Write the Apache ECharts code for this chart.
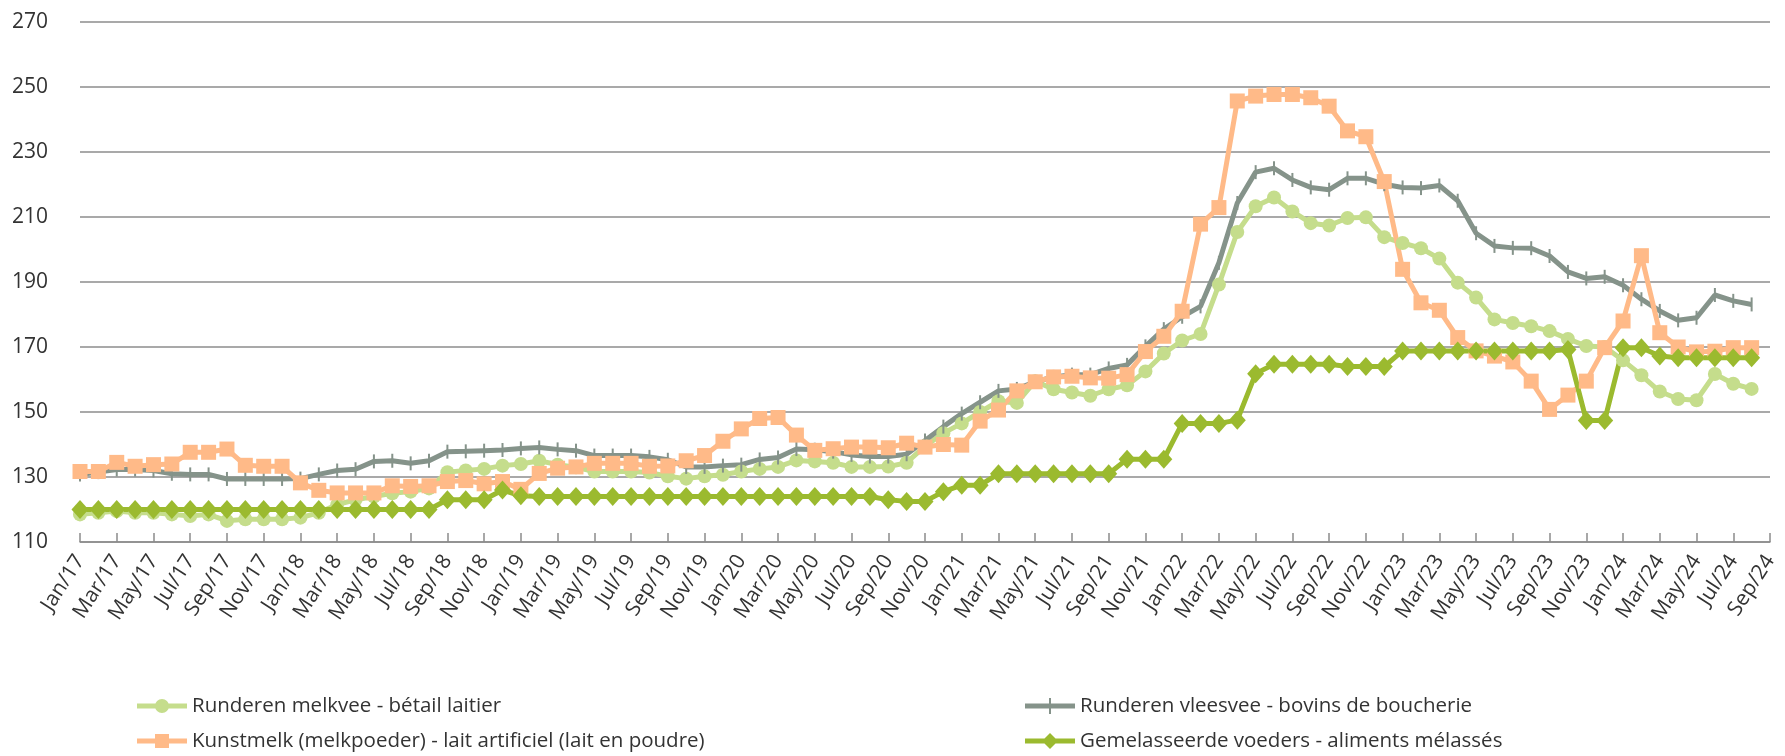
<!DOCTYPE html>
<html>
<head>
<meta charset="utf-8">
<script src="https://cdn.jsdelivr.net/npm/echarts@6/dist/echarts.min.js"></script>
<style>
  html, body { margin: 0; padding: 0; background: #fff; }
  #chart { width: 1785px; height: 756px; }
</style>
</head>
<body>
<div id="chart"></div>
<script>
// month labels Jan/17 .. Sep/24
var months = [
    'Jan/17','Feb/17','Mar/17','Apr/17','May/17','Jun/17','Jul/17','Aug/17','Sep/17','Oct/17','Nov/17','Dec/17',
    'Jan/18','Feb/18','Mar/18','Apr/18','May/18','Jun/18','Jul/18','Aug/18','Sep/18','Oct/18','Nov/18','Dec/18',
    'Jan/19','Feb/19','Mar/19','Apr/19','May/19','Jun/19','Jul/19','Aug/19','Sep/19','Oct/19','Nov/19','Dec/19',
    'Jan/20','Feb/20','Mar/20','Apr/20','May/20','Jun/20','Jul/20','Aug/20','Sep/20','Oct/20','Nov/20','Dec/20',
    'Jan/21','Feb/21','Mar/21','Apr/21','May/21','Jun/21','Jul/21','Aug/21','Sep/21','Oct/21','Nov/21','Dec/21',
    'Jan/22','Feb/22','Mar/22','Apr/22','May/22','Jun/22','Jul/22','Aug/22','Sep/22','Oct/22','Nov/22','Dec/22',
    'Jan/23','Feb/23','Mar/23','Apr/23','May/23','Jun/23','Jul/23','Aug/23','Sep/23','Oct/23','Nov/23','Dec/23',
    'Jan/24','Feb/24','Mar/24','Apr/24','May/24','Jun/24','Jul/24','Aug/24','Sep/24'
];

var melkvee = [
    118.5, 119, 119.5, 119, 119, 118.5, 118, 118.5, 116.5, 117, 117, 117,
    117.5, 119, 121.5, 123, 124, 125, 125.5, 126.5, 131.5, 132, 132.5, 133.5,
    134, 135, 133.8, 133, 131.7, 131.7, 131.7, 131.4, 130.2, 129.5, 130.2, 130.7,
    131.7, 132.5, 133.1, 135.1, 134.8, 134.4, 133.1, 133.1, 133.2, 134.4, 139.5, 143.5,
    146.5, 150, 153.3, 152.8, 159.5, 157, 156, 155, 157, 158.2, 162.5, 168,
    172, 174, 189.2, 205.4, 213.3, 216, 211.7, 208.1, 207.4, 209.7, 209.9, 203.8,
    202, 200.4, 197.2, 189.8, 185.2, 178.5, 177.4, 176.4, 174.9, 172.5, 170.3, 170,
    165.9, 161.3, 156.3, 154, 153.6, 161.7, 158.7, 157.1, null
];

var vleesvee = [
    130.8, 131.5, 132.3, 132.3, 132, 131, 130.8, 130.8, 129.4, 129.4, 129.4, 129.4,
    129.5, 130.8, 132, 132.4, 134.8, 135, 134.2, 135, 137.8, 137.9, 138.1, 138.3,
    138.8, 139.1, 138.5, 138.1, 136.6, 136.6, 136.6, 136.2, 135.3, 133.1, 133.1, 133.5,
    133.8, 135.4, 136, 138.6, 138.4, 137.8, 136.8, 136.3, 136.3, 137, 141.2, 145.5,
    149.5, 153, 156.5, 157.1, 159.3, 160.8, 161.5, 161.5, 163.4, 164.5, 170.2, 175.5,
    179.3, 182.5, 195.9, 214.3, 223.8, 225, 221.4, 219.1, 218.4, 221.9, 221.9, 220.1,
    219.1, 218.9, 219.7, 215, 205, 201.1, 200.5, 200.4, 198, 193.1, 191.1, 191.6,
    189, 184.7, 181.1, 178.2, 179, 186, 184.2, 183.1, null
];

var kunstmelk = [
    131.7, 131.7, 134.5, 133.3, 133.8, 134, 137.6, 137.6, 138.6, 133.6, 133.3, 133.3,
    128.2, 125.9, 125.1, 125.1, 125.1, 127.3, 127.1, 127.3, 128.6, 128.9, 127.9, 128.6,
    126.2, 131.1, 132.7, 133.1, 134.2, 134.2, 134.2, 133.3, 133.4, 135, 136.6, 141,
    144.8, 148, 148.3, 142.9, 138.2, 138.7, 139.2, 139.2, 139, 140.4, 139.2, 140,
    139.8, 147.2, 150.6, 156.5, 159.3, 160.8, 161, 160.5, 160.4, 161.5, 168.6, 173.3,
    181, 207.8, 212.9, 245.7, 247.2, 247.7, 247.7, 246.7, 244.1, 236.5, 234.7, 220.9,
    193.9, 183.6, 181.3, 172.9, 168.8, 167.2, 165.4, 159.5, 150.8, 155.2, 159.5, 169.8,
    178, 198.1, 174.4, 170, 168.5, 168.7, 169.8, 169.8, null
];

var gemelasseerd = [
    120, 120, 120, 120, 120, 120, 120, 120, 120, 120, 120, 120,
    120, 120, 120, 120, 120, 120, 120, 120, 123, 123, 123, 126,
    124.2, 124, 124, 124, 124, 124, 124, 124, 124, 124, 124, 124,
    124, 124, 124, 124, 124, 124, 124, 124, 123, 122.5, 122.5, 125.5,
    127.5, 127.5, 131, 131, 131, 131, 131, 131, 131, 135.5, 135.5, 135.5,
    146.5, 146.5, 146.5, 147.5, 161.8, 164.7, 164.7, 164.7, 164.7, 164, 164, 164,
    168.8, 168.8, 168.8, 168.8, 168.8, 168.8, 168.8, 168.8, 168.8, 169.2, 147.4, 147.4,
    169.8, 169.8, 167.2, 166.7, 166.7, 166.7, 166.7, 166.7, null
];

var yTicks = [110, 130, 150, 170, 190, 210, 230, 250, 270];

var names = [
    'Runderen melkvee - bétail laitier',
    'Runderen vleesvee - bovins de boucherie',
    'Kunstmelk (melkpoeder) - lait artificiel (lait en poudre)',
    'Gemelasseerde voeders - aliments mélassés'
];

// legend icons: thick line with the series marker on it
var icons = [
    'path://M0,5.5H50V10.5H0Z M18,8A7,7 0 1,1 32,8A7,7 0 1,1 18,8Z',
    'path://M0,5.5H50V10.5H0Z M24,0H26V16H24Z',
    'path://M0,5.5H50V10.5H0Z M18,1H32V15H18Z',
    'path://M0,5.5H50V10.5H0Z M25,0L33,8L25,16L17,8Z'
];

var font = '"Open Sans", sans-serif';

function legendAt(i, left, top) {
    return {
        data: [{ name: names[i], icon: icons[i] }],
        left: left,
        top: top,
        itemWidth: 50,
        itemHeight: 16,
        padding: 0,
        textStyle: { fontFamily: font, fontSize: 20.5, lineHeight: 22, color: '#333' }
    };
}

var chart = echarts.init(document.getElementById('chart'));

chart.setOption({
    animation: false,
    backgroundColor: '#fff',
    grid: { left: 80, right: 15, top: 22, bottom: 214, containLabel: false },
    legend: [
        legendAt(0, 137, 695),
        legendAt(2, 137, 730),
        legendAt(1, 1025, 695),
        legendAt(3, 1025, 730)
    ],
    xAxis: {
        type: 'category',
        data: months,
        boundaryGap: false,
        axisLine: { lineStyle: { color: '#8c8c8c', width: 1.5 } },
        axisTick: { inside: true, length: 9, interval: 1, lineStyle: { color: '#8c8c8c', width: 1.5 } },
        axisLabel: {
            interval: 1,
            rotate: 57,
            margin: 15,
            fontFamily: font,
            fontSize: 21,
            color: '#333'
        }
    },
    yAxis: {
        type: 'value',
        min: yTicks[0],
        max: yTicks[yTicks.length - 1],
        interval: 20,
        axisLine: { show: false },
        axisTick: { show: false },
        splitLine: { lineStyle: { color: '#8c8c8c', width: 1.5 } },
        axisLabel: { margin: 32, fontFamily: font, fontSize: 21, color: '#333' }
    },
    series: [{
        name: names[0],
        type: 'line',
        data: melkvee,
        color: '#C5DD8C',
        symbol: 'circle',
        symbolSize: 14,
        showAllSymbol: true,
        lineStyle: { width: 5 },
        itemStyle: { color: '#C5DD8C' }
    }, {
        name: names[1],
        type: 'line',
        data: vleesvee,
        color: '#85938A',
        symbol: 'rect',
        symbolSize: [2, 14],
        showAllSymbol: true,
        lineStyle: { width: 5 },
        itemStyle: { color: '#85938A' }
    }, {
        name: names[2],
        type: 'line',
        data: kunstmelk,
        color: '#FFBA88',
        symbol: 'rect',
        symbolSize: 15,
        showAllSymbol: true,
        lineStyle: { width: 5 },
        itemStyle: { color: '#FFBA88' }
    }, {
        name: names[3],
        type: 'line',
        data: gemelasseerd,
        color: '#9BBA2F',
        symbol: 'diamond',
        symbolSize: [17, 19],
        showAllSymbol: true,
        lineStyle: { width: 5 },
        itemStyle: { color: '#9BBA2F' }
    }]
});
</script>
</body>
</html>
